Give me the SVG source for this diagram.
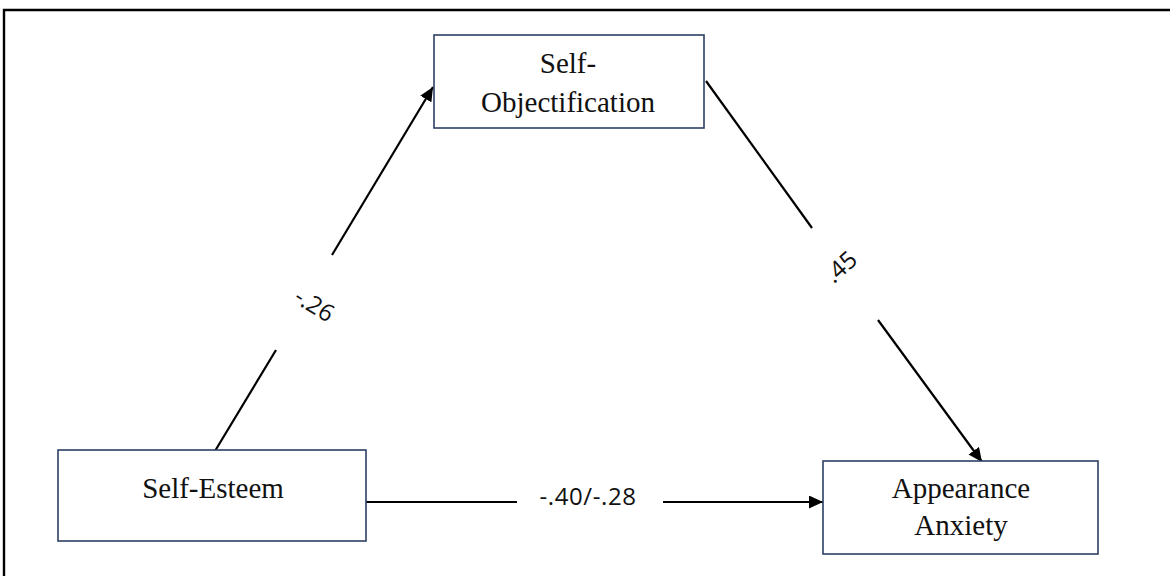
<svg xmlns="http://www.w3.org/2000/svg" width="1170" height="576" viewBox="0 0 1170 576">
  <style>
    .box { fill: #ffffff; stroke: #2B3F63; stroke-width: 1.6; }
    .lbl { font-family: "Liberation Serif", "Times New Roman", serif; font-size: 29px; fill: #111111; text-anchor: middle; }
    .coef { font-family: "Open Sans", "Liberation Sans", sans-serif; font-size: 24px; fill: #111111; text-anchor: middle; dominant-baseline: central; }
    .edge { stroke: #000000; stroke-width: 2.2; fill: none; }
    .frame { stroke: #000000; stroke-width: 2.4; fill: none; }
  </style>
  <defs>
    <marker id="arrow" markerUnits="userSpaceOnUse" markerWidth="15" markerHeight="13" refX="14" refY="6.5" orient="auto">
      <path d="M0,0 L14,6.5 L0,13 z" fill="#000000"/>
    </marker>
  </defs>
  <rect width="1170" height="576" fill="#ffffff"/>
  <path class="frame" d="M4,576 L4,10 L1170,10"/>

  <g id="connectors">
    <line class="edge" x1="215" y1="451" x2="276" y2="350"/>
    <line class="edge" x1="332" y1="255" x2="433" y2="87" marker-end="url(#arrow)"/>
    <text class="coef" transform="translate(315,304) rotate(32)">-.26</text>

    <line class="edge" x1="706" y1="81" x2="812" y2="228"/>
    <line class="edge" x1="878" y1="320" x2="982" y2="462" marker-end="url(#arrow)"/>
    <text class="coef" transform="translate(840,266) rotate(-42)">.45</text>

    <line class="edge" x1="366" y1="502" x2="517" y2="502"/>
    <line class="edge" x1="663" y1="502" x2="823" y2="502" marker-end="url(#arrow)"/>
    <text class="coef" x="588" y="495" letter-spacing="0.6">-.40/-.28</text>
  </g>

  <g id="node-self-objectification">
    <rect class="box" x="434" y="35" width="270" height="93"/>
    <text class="lbl" x="568" y="73">Self-</text>
    <text class="lbl" x="568" y="112">Objectification</text>
  </g>

  <g id="node-self-esteem">
    <rect class="box" x="58" y="450" width="308" height="91"/>
    <text class="lbl" x="213" y="498">Self-Esteem</text>
  </g>

  <g id="node-appearance-anxiety">
    <rect class="box" x="823" y="461" width="275" height="93"/>
    <text class="lbl" x="961" y="498">Appearance</text>
    <text class="lbl" x="961" y="535">Anxiety</text>
  </g>
</svg>
